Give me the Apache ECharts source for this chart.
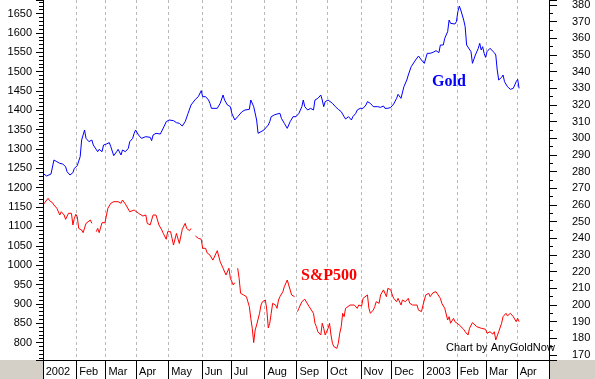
<!DOCTYPE html>
<html><head><meta charset="utf-8">
<script src="https://cdn.jsdelivr.net/npm/echarts@6/dist/echarts.min.js"></script>
<style>html,body{margin:0;padding:0;background:#fff}#c{width:595px;height:379px}</style>
</head><body><div id="c"></div>
<script>
// Month labels of the time axis and the number of weekdays in each month
const monthLabels = ['2002','Feb','Mar','Apr','May','Jun','Jul','Aug','Sep','Oct','Nov','Dec','2003','Feb','Mar','Apr'];
const monthWeekdays = [23,20,21,22,23,20,23,22,21,23,21,22,23,20,21,22];

// S&P500 (left axis): weekday index since 1 Jan 2002, value (null = gap)
const spDays = [0,3,4,6,7,9,10,11,12,13,14,15,17,18,19,20,21,22,23,24,26,27,29,30,32,33,34,36,37,38,40,42,43,44,46,48,49,51,53,54,56,57,59,60,62,63,65,66,68,70,71,72,73,75,76,77,79,81,82,84,85,87,88,89,91,92,93,95,96,97,98,100,101,103,104,106,108,109,110,111,112,114,116,117,119,120,121,123,124,125,127,128,130,131,132,133,134,135,137,139,140,141,142,143,144,145,146,148,149,150,152,153,154,155,156,157,159,160,161,162,164,165,167,168,169,170,172,173,174,175,177,179,180,182,183,185,186,187,188,190,191,192,193,195,196,197,198,199,201,202,203,204,205,206,207,208,210,211,213,215,216,218,219,220,222,223,224,226,227,228,230,231,233,234,235,236,238,239,240,242,243,245,246,248,250,251,253,254,256,257,259,260,261,262,264,265,267,269,270,272,273,275,276,277,278,279,281,282,283,285,286,288,289,291,292,294,295,297,298,300,301,303,304,306,308,309,310,311,312,314,315,317,318,320,322,324,325,326];
const spVals = [1158,1172.7,1166.6,1161.4,1155.4,1147,1142.5,1129.6,1138,1134,1129.6,1118.4,1134,1134,1134,1103.8,1121,1131.4,1125,1095,1090.8,1084,1108,1112,1116.7,1108,null,1086.5,1095,1084,1109.7,1109.7,1112.3,1147,1160,1164,1166.6,1164,1160,1168.3,1158,1155.4,1138,1134,1142.5,1147,1134,1129.6,1127,1129.6,1108,1112.3,1103.8,1129.6,1127,1129.6,1103.8,1090.8,1082,1067,1086.5,1086.5,1069.4,1052,1082,1086.5,1056,1092.6,1095,1108,1095,1089,1095,null,1075.3,1069.4,1067,1043.5,1039,1043.5,1032,1026,1013,1009,1037.4,1035,1009,992,987.5,974.6,992,966,948.7,954.6,null,992,966,927.3,923,918.6,905.6,893,862.6,837,800,832.5,845.4,875.6,897,905.6,910,884,838,850,875.6,901.5,897,888.5,910,918.6,931.5,944.4,961.7,948.7,944.4,923,918.6,null,880,888.5,905.6,912,910,893,888.5,875.6,850,841,828,819.6,850,837,819.6,837,850,819.6,798,789.4,785,798,824,841,875.6,867,888.5,893,897,893,897,888.5,897,894.5,914.3,918.6,923,888.5,875.6,884,893,905.6,901.5,923,936,940.2,918.6,940.2,936,923,914.3,905.6,914.3,897,910,905.6,914.3,901.5,897,893,897,884,880,880,910,923,927.3,918.6,929,931.5,927.3,914.3,901.5,888.5,884,858.3,867,850,862.6,854,858.3,845.4,841,834.3,828,819.6,837,851.4,850,841,843,837,841,834.3,824,828,822,828,806.7,802.4,828,850,867,875.6,869,875.6,867,854,862.6,854];

// Gold (right axis): weekday index since 1 Jan 2002, value
const goldDays = [0,2,3,5,7,9,11,13,15,16,18,20,21,22,23,25,26,28,29,31,33,34,35,37,38,40,41,43,45,46,48,50,51,53,54,56,58,59,61,62,63,65,67,70,73,74,75,77,80,81,83,84,86,89,91,93,95,97,99,101,104,106,108,109,111,113,114,115,116,119,121,123,124,126,128,129,131,133,136,138,139,141,142,143,144,146,147,149,151,152,154,155,156,158,160,161,162,163,165,167,168,169,171,173,175,177,178,179,181,183,185,186,188,190,191,192,193,195,196,198,200,202,204,206,207,209,211,212,214,215,217,219,221,222,224,226,227,229,231,233,234,236,238,239,240,242,243,245,246,247,248,249,250,252,253,255,257,259,260,261,263,265,267,269,271,272,274,275,277,278,279,280,282,283,284,285,286,288,289,290,291,293,294,296,298,299,300,301,302,303,304,306,307,309,310,311,312,314,315,316,318,320,322,324,325,326];
const goldVals = [278.6,277.4,278.6,278.6,287,286,285,284.6,283,280,278,279.4,282,282,283.6,289,299,305,300,298,299,296,295,292,293.4,292,296,296.6,297.4,295,289.6,292,293.4,290,293,292,294,298,300,303,305,302,300,301,300.6,298.6,302,303,302.6,303,308,310,311,310.6,309.4,309,307.4,310,315,320,323.4,325,328.6,325,325,323,321,318,318.6,318,321,326,323,320,319,315,311,313,316,317,318,317.4,323,323.4,319,311,303,304,305,305.4,308,310,313,314,314.6,313.4,315,312,309,306,306.6,310,313,313,315,319,323,319,317,318,317,323,324,326,323,319,322,323,322,321,319,317.4,316,313,311.6,313,311,313,315,317,318,318,320,322,321,319,319.4,319,318.6,319.4,318,318,318.6,319,320.6,324,326.4,324,323,331,332,335,338,343,342,347,349.4,347,348,345,351,351,351.6,352.6,351.4,356,356,360,364,371,369,369,368.6,370,376,379.4,377,371,367,356,355,352,345,350,354,357,353,355,351,348.6,352,354,355,351.4,350,341,335,336.6,338,334,331,329.4,330,334,335.4,330];

const categories = [];
const monthStart = new Set();
monthLabels.forEach((m, mi) => {
  for (let d = 0; d < monthWeekdays[mi]; d++) {
    if (d === 0) monthStart.add(categories.length);
    categories.push(mi + '-' + d);
  }
});
const isStart = (i) => monthStart.has(i);
const pairs = (days, vals) => days.map((d, i) => [d, vals[i] === null ? '-' : vals[i]]);

const font = 'Liberation Sans, Arial, sans-serif';
const chart = echarts.init(document.getElementById('c'), null, {renderer: 'canvas'});
chart.setOption({
  animation: false,
  backgroundColor: '#ffffff',
  grid: {left: 43, right: 46, top: 0, bottom: 19, containLabel: false, outerBoundsMode: 'none'},
  xAxis: {
    type: 'category', data: categories, boundaryGap: true,
    axisLine: {show: true, lineStyle: {color: '#000', width: 1}},
    axisTick: {show: true, interval: (i) => isStart(i), length: 19, lineStyle: {color: '#000'}},
    axisLabel: {
      interval: (i) => isStart(i),
      formatter: (v) => { const p = v.split('-'); return p[1] === '0' ? monthLabels[+p[0]] : ''; },
      align: 'left', padding: [0, 0, 0, 2], margin: 6,
      fontSize: 11, fontFamily: font, color: '#000', hideOverlap: false
    },
    splitLine: {show: true, interval: (i) => isStart(i), lineStyle: {color: '#b8b8b8', width: 1, type: [3, 3]}}
  },
  yAxis: [
    {
      type: 'value', position: 'left', min: 755, max: 1685, splitNumber: 18, scale: true,
      axisLine: {show: true, lineStyle: {color: '#000'}},
      axisTick: {show: true, length: 7, lineStyle: {color: '#000'}},
      minorTick: {show: true, splitNumber: 5, length: 4, lineStyle: {color: '#000'}},
      axisLabel: {formatter: (v) => (v % 50 === 0 ? String(v) : ''), margin: 11, fontSize: 11, fontFamily: font, color: '#000', showMinLabel: true, showMaxLabel: true},
      splitLine: {show: false}
    },
    {
      type: 'value', position: 'right', min: 167, max: 383, splitNumber: 21, scale: true,
      axisLine: {show: true, lineStyle: {color: '#000'}},
      axisTick: {show: true, length: 8, lineStyle: {color: '#000'}},
      minorTick: {show: true, splitNumber: 2, length: 4, lineStyle: {color: '#000'}},
      axisLabel: {formatter: (v) => (v % 10 === 0 ? String(v) : ''), margin: 23, fontSize: 11, fontFamily: font, color: '#000'},
      splitLine: {show: false}
    }
  ],
  series: [
    {name: 'S&P500', type: 'line', yAxisIndex: 0, data: pairs(spDays, spVals), showSymbol: false, connectNulls: false,
     lineStyle: {color: '#ff0000', width: 1}, itemStyle: {color: '#ff0000'}},
    {name: 'Gold', type: 'line', yAxisIndex: 1, data: pairs(goldDays, goldVals), showSymbol: false,
     lineStyle: {color: '#0000ff', width: 1}, itemStyle: {color: '#0000ff'}}
  ],
  graphic: [
    {type: 'rect', z: -10, shape: {x: 0, y: 360, width: 43, height: 19}, style: {fill: '#d4d0c8'}},
    {type: 'rect', z: -10, shape: {x: 549, y: 360, width: 46, height: 19}, style: {fill: '#d4d0c8'}},
    {type: 'text', left: 432, top: 74, style: {text: 'Gold', font: 'bold 16px "Liberation Serif", "Times New Roman", serif', fill: '#0000ff'}},
    {type: 'text', left: 301, top: 268, style: {text: 'S&P500', font: 'bold 16px "Liberation Serif", "Times New Roman", serif', fill: '#ff0000'}},
    {type: 'text', left: 446, top: 342, style: {text: 'Chart by AnyGoldNow', font: '11px "Liberation Sans", Arial, sans-serif', fill: '#000'}}
  ]
});
</script>
</body></html>
